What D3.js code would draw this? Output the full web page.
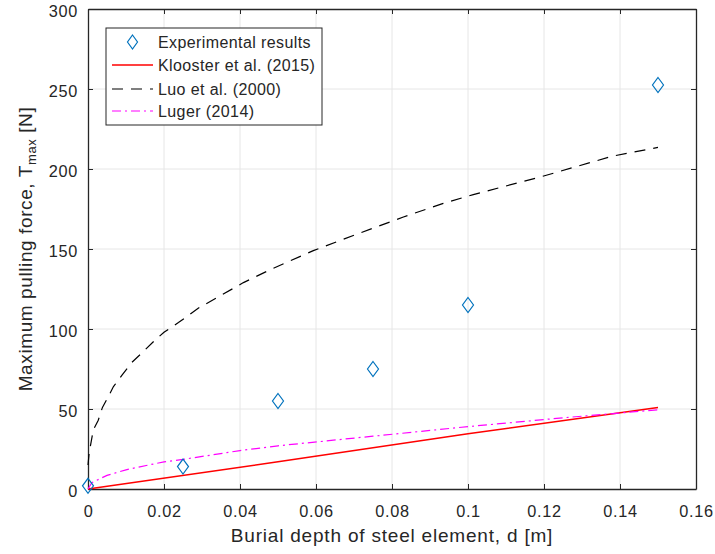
<!DOCTYPE html>
<html><head><meta charset="utf-8">
<script src="https://cdn.jsdelivr.net/npm/d3@7"></script>
<style>body{margin:0;background:#fff}svg{display:block}text{font-family:"Liberation Sans",Arial,sans-serif;fill:#262626}</style>
</head><body><svg id="c" width="715" height="554"></svg>
<script>
const xTicks=[0,0.02,0.04,0.06,0.08,0.1,0.12,0.14,0.16];
const yTicks=[0,50,100,150,200,250,300];
const expD=[0,0.025,0.05,0.075,0.1,0.15];
const expT=[2,14,55,75,115,252.5];
const kloD=[0,0.05,0.1,0.15];
const kloT=[0,17,34.5,51];
const luoD=[0,0.0003,0.0014,0.0027,0.0038,0.0053,0.0067,0.0089,0.0115,0.0146,0.0172,0.02,0.0238,0.029,0.035,0.0409,0.0479,0.0593,0.0716,0.083,0.0935,0.1014,0.119,0.138,0.15];
const luoT=[15,22.5,37,43,51,57.5,64,71,79,86,92,98,104,113,121,129,137,149,160,170,178.5,184,195,208,213.5];
const lugD=[0,0.001,0.005,0.01,0.02,0.025,0.04,0.05,0.075,0.1,0.125,0.15];
const lugT=[0,4,8.5,12,17,18.5,24,27,33,39,44.5,49.5];
const legendLabels=["Experimental results","Klooster et al. (2015)","Luo et al. (2000)","Luger (2014)"];

const svg=d3.select("#c");
const L=88,R=696,T=9,B=489;
const x=d3.scaleLinear().domain([0,0.16]).range([L,R]);
const y=d3.scaleLinear().domain([0,300]).range([B,T]);
const ax="#262626", fs=16.3;

// grid
svg.append("g").selectAll("line").data(xTicks.slice(1,-1)).join("line")
 .attr("x1",d=>x(d)).attr("x2",d=>x(d)).attr("y1",T).attr("y2",B).attr("stroke","#e6e6e6");
svg.append("g").selectAll("line").data(yTicks.slice(1,-1)).join("line")
 .attr("y1",d=>y(d)).attr("y2",d=>y(d)).attr("x1",L).attr("x2",R).attr("stroke","#e6e6e6");

// axes
const xa=svg.append("g").attr("transform",`translate(0,${B})`)
 .call(d3.axisBottom(x).tickValues(xTicks).tickFormat(d=>d3.format("~g")(d)).tickSizeInner(-5).tickSizeOuter(0).tickPadding(16));
const xt=svg.append("g").attr("transform",`translate(0,${T})`)
 .call(d3.axisTop(x).tickValues(xTicks).tickFormat("").tickSizeInner(-5).tickSizeOuter(0));
const ya=svg.append("g").attr("transform",`translate(${L},0)`)
 .call(d3.axisLeft(y).tickValues(yTicks).tickSizeInner(-5).tickSizeOuter(0).tickPadding(10));
const yr=svg.append("g").attr("transform",`translate(${R},0)`)
 .call(d3.axisRight(y).tickValues(yTicks).tickFormat("").tickSizeInner(-5).tickSizeOuter(0));
[xa,xt,ya,yr].forEach(g=>{g.selectAll("path").attr("stroke",ax).attr("stroke-width",1.3);
 g.selectAll("line").attr("stroke",ax);
 g.selectAll("text").attr("font-size",fs).attr("fill",ax).attr("letter-spacing",0.7).style("font-family","Liberation Sans, Arial, sans-serif");});
ya.selectAll("text").attr("dy","0.45em");

// lines
const ln=(D,V)=>d3.line().x((d,i)=>x(D[i])).y((d,i)=>y(V[i]))(D);
svg.append("path").attr("d",ln(kloD,kloT)).attr("fill","none").attr("stroke","#ff0000").attr("stroke-width",1.5);
svg.append("path").attr("d",ln(luoD,luoT)).attr("fill","none").attr("stroke","#000").attr("stroke-width",1.2).attr("stroke-dasharray","11,8");
svg.append("path").attr("d",ln(lugD,lugT)).attr("fill","none").attr("stroke","#ff00ff").attr("stroke-width",1.2).attr("stroke-dasharray","9,4,2,4");

// markers
const diamond=(cx,cy,w,h)=>`M${cx},${cy-h/2}L${cx+w/2},${cy}L${cx},${cy+h/2}L${cx-w/2},${cy}Z`;
svg.append("g").selectAll("path").data(expD).join("path")
 .attr("d",(d,i)=>diamond(x(d),y(expT[i]),11,15)).attr("fill","none").attr("stroke","#0072BD").attr("stroke-width",1.2);

// legend
const lg=svg.append("g");
lg.append("rect").attr("x",106).attr("y",28).attr("width",216).attr("height",97).attr("fill","#fff").attr("stroke",ax).attr("stroke-width",1);
const rows=[42,65,89,111];
lg.append("path").attr("d",diamond(132.5,rows[0],10,14)).attr("fill","none").attr("stroke","#0072BD").attr("stroke-width",1.2);
lg.append("line").attr("x1",112).attr("x2",153).attr("y1",rows[1]).attr("y2",rows[1]).attr("stroke","#ff0000").attr("stroke-width",1.5);
lg.append("line").attr("x1",112).attr("x2",153).attr("y1",rows[2]).attr("y2",rows[2]).attr("stroke","#000").attr("stroke-width",1.2).attr("stroke-dasharray","11,8");
lg.append("line").attr("x1",112).attr("x2",153).attr("y1",rows[3]).attr("y2",rows[3]).attr("stroke","#ff00ff").attr("stroke-width",1.2).attr("stroke-dasharray","9,4,2,4");
lg.selectAll("text.l").data(legendLabels).join("text").attr("class","l")
 .attr("x",158).attr("y",(d,i)=>rows[i]).attr("dy","0.36em").attr("font-size",16).attr("letter-spacing",0.4).text(d=>d);

// axis labels
svg.append("text").attr("x",(L+R)/2).attr("y",542).attr("text-anchor","middle").attr("font-size",19).attr("letter-spacing",0.8).text("Burial depth of steel element, d [m]");
const yl=svg.append("text").attr("transform",`translate(32,${(T+B)/2}) rotate(-90)`).attr("text-anchor","middle").attr("font-size",19).attr("letter-spacing",0.6);
yl.append("tspan").text("Maximum pulling force, T");
yl.append("tspan").attr("font-size",13).attr("dy",4).text("max");
yl.append("tspan").attr("dy",-4).text(" [N]");
</script></body></html>
